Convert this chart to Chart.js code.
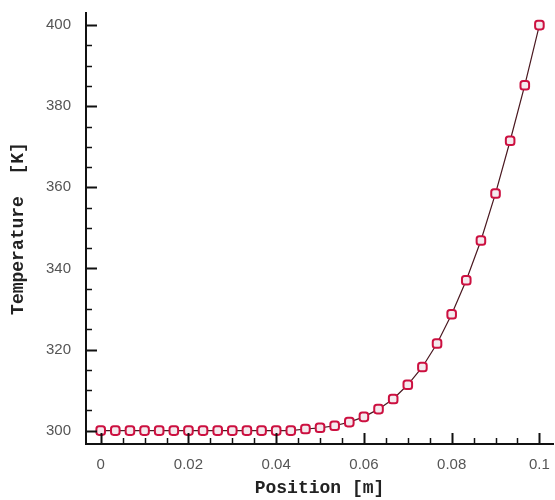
<!DOCTYPE html>
<html>
<head>
<meta charset="utf-8">
<script src="https://cdn.jsdelivr.net/npm/chart.js@4.4.1/dist/chart.umd.min.js"></script>
<style>
    body { margin: 0; background: #fff; }
    canvas { display: block; }
</style>
</head>
<body>
<canvas id="tempChart" width="555" height="500"></canvas>
<script>
// position along the rod [m]
const positions = [
    0, 0.00333, 0.00667, 0.01, 0.01333, 0.01667, 0.02, 0.02333, 0.02667, 0.03,
    0.03333, 0.03667, 0.04, 0.04333, 0.04667, 0.05, 0.05333, 0.05667, 0.06, 0.06333,
    0.06667, 0.07, 0.07333, 0.07667, 0.08, 0.08333, 0.08667, 0.09, 0.09333, 0.09667, 0.1
];
// temperature [K]
const temperatures = [
    300, 300, 300, 300, 300, 300, 300, 300, 300, 300,
    300, 300, 300, 300, 300.4, 300.7, 301.2, 302.1, 303.4, 305.3,
    307.8, 311.3, 315.7, 321.5, 328.7, 337.1, 346.9, 358.5, 371.5, 385.2, 400
];
const xTicks = [0, 0.02, 0.04, 0.06, 0.08, 0.1];
const xTickLabels = ['0', '0.02', '0.04', '0.06', '0.08', '0.1'];
const yTicks = [300, 320, 340, 360, 380, 400];
const yTickLabels = ['300', '320', '340', '360', '380', '400'];

// ticks drawn inside the plot, major + minor
const innerTicks = {
    id: 'innerTicks',
    afterDraw(chart) {
        const ctx = chart.ctx;
        const xs = chart.scales.x, ys = chart.scales.y;
        const area = chart.chartArea;
        ctx.save();
        ctx.strokeStyle = '#111';
        // x axis
        for (let k = 0; k <= 20; k++) {
            const v = k * 0.005;
            const px = Math.round(xs.getPixelForValue(v)) + 0.5;
            const major = k % 4 === 0;
            ctx.lineWidth = major ? 2 : 1.5;
            ctx.beginPath();
            ctx.moveTo(px, area.bottom);
            ctx.lineTo(px, area.bottom - (major ? 11 : 6));
            ctx.stroke();
        }
        // y axis
        for (let k = 0; k <= 20; k++) {
            const v = 300 + k * 5;
            const py = Math.round(ys.getPixelForValue(v)) + 0.5;
            const major = k % 4 === 0;
            ctx.lineWidth = major ? 2 : 1.5;
            ctx.beginPath();
            ctx.moveTo(area.left, py);
            ctx.lineTo(area.left + (major ? 11 : 6), py);
            ctx.stroke();
        }
        ctx.restore();
    }
};

function initChart() {
    const ctx = document.getElementById('tempChart').getContext('2d');
    new Chart(ctx, {
        type: 'line',
        data: {
            datasets: [{
                data: positions.map((p, i) => ({ x: p, y: temperatures[i] })),
                borderColor: '#4a1820',
                borderWidth: 1.2,
                tension: 0,
                clip: false,
                pointStyle: 'rectRounded',
                pointRadius: 5,
                pointBorderWidth: 2,
                pointBorderColor: '#cc1040',
                pointBackgroundColor: '#f4eaee'
            }]
        },
        options: {
            responsive: false,
            animation: false,
            layout: { autoPadding: false, padding: { top: 13, right: 2, left: 0, bottom: 0 } },
            plugins: { legend: { display: false }, tooltip: { enabled: false } },
            scales: {
                x: {
                    type: 'linear',
                    min: -0.00335,
                    max: 0.1031,
                    afterBuildTicks: s => { s.ticks = xTicks.map(v => ({ value: v })); },
                    afterFit: s => { s.height = 56; s.paddingLeft = 0; s.paddingRight = 0; },
                    grid: { display: false },
                    border: { display: true, color: '#111', width: 2 },
                    ticks: {
                        color: '#555',
                        font: { family: 'Liberation Sans, Arial', size: 15 },
                        padding: 4,
                        maxRotation: 0,
                        callback: (v, i) => xTickLabels[i]
                    },
                    title: {
                        display: true,
                        text: 'Position [m]',
                        color: '#222',
                        font: { family: 'Liberation Mono, Courier New', size: 18, weight: 'bold' },
                        padding: { top: 0, bottom: 1 }
                    }
                },
                y: {
                    type: 'linear',
                    min: 296.7,
                    max: 403,
                    afterBuildTicks: s => { s.ticks = yTicks.map(v => ({ value: v })); },
                    afterFit: s => { s.width = 86; s.paddingTop = 0; s.paddingBottom = 0; },
                    grid: { display: false },
                    border: { display: true, color: '#111', width: 2 },
                    ticks: {
                        color: '#555',
                        font: { family: 'Liberation Sans, Arial', size: 15 },
                        padding: 7,
                        callback: (v, i) => yTickLabels[i]
                    },
                    title: {
                        display: true,
                        text: 'Temperature  [K]',
                        color: '#222',
                        font: { family: 'Liberation Mono, Courier New', size: 18, weight: 'bold' },
                        padding: { top: 8, bottom: 0 }
                    }
                }
            }
        },
        plugins: [innerTicks]
    });
}

window.onload = initChart;
</script>
</body>
</html>
